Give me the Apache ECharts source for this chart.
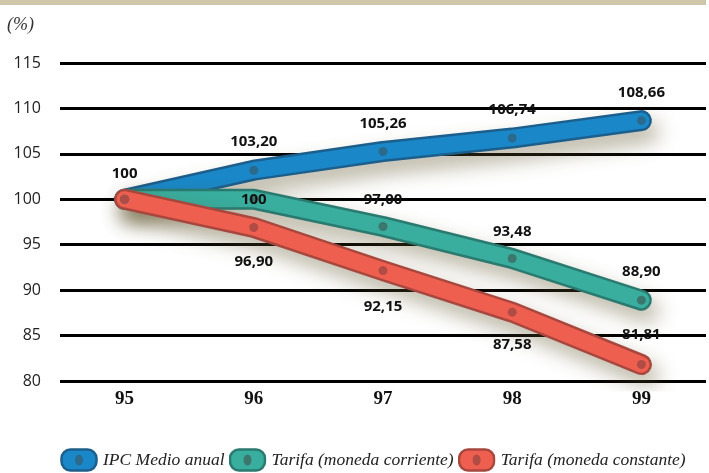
<!DOCTYPE html>
<html>
<head>
<meta charset="utf-8">
<script src="https://cdn.jsdelivr.net/npm/echarts@6/dist/echarts.min.js"></script>
<style>
html, body { margin: 0; padding: 0; background: #fff; }
#chart { width: 709px; height: 473px; }
</style>
</head>
<body>
<div id="chart"></div>
<script>
var years = ["95", "96", "97", "98", "99"];
var ipc = [100, 103.20, 105.26, 106.74, 108.66];
var tarifaCorriente = [100, 100, 97.00, 93.48, 88.90];
var tarifaConstante = [100, 96.90, 92.15, 87.58, 81.81];
var names = ["IPC Medio anual", "Tarifa (moneda corriente)", "Tarifa (moneda constante)"];

// colores: relleno, borde, punto
var colors = [
    ["#1a88c8", "#1c5f8c", "#2b6a8c"],
    ["#39ad9e", "#2a7a70", "#3c776e"],
    ["#ef5f50", "#a8473e", "#b04c44"]
];

// posicion de etiqueta por punto (null = sin etiqueta)
var labelPos = [
    [["top", 14], ["top", 16], ["top", 16], ["top", 16], ["top", 16]],
    [null, ["inside", 0], ["top", 15], ["top", 15], ["top", 16]],
    [null, ["bottom", 22], ["bottom", 24], ["bottom", 21], ["top", 18]]
];

function fmt(v) {
    return v === 100 ? "100" : v.toFixed(2).replace(".", ",");
}

function icon(c) {
    var svg = '<svg xmlns="http://www.w3.org/2000/svg" width="38" height="24" viewBox="0 0 38 24">' +
        '<rect x="1.5" y="1.5" width="35" height="21" rx="9" ry="9" fill="' + c[0] + '" stroke="' + c[1] + '" stroke-width="2.5"/>' +
        '<ellipse cx="19" cy="12" rx="4" ry="5.5" fill="' + c[2] + '"/></svg>';
    return "image://data:image/svg+xml;charset=utf-8," + encodeURIComponent(svg);
}

var values = [ipc, tarifaCorriente, tarifaConstante];
var series = [];
values.forEach(function(vals, i) {
    var c = colors[i];
    series.push({
        name: names[i] + "_borde",
        type: "line",
        data: vals,
        silent: true,
        symbol: "none",
        animation: false,
        lineStyle: {
            color: c[1],
            width: 21,
            cap: "round",
            join: "round",
            shadowBlur: 20,
            shadowColor: "rgba(95,85,45,0.45)",
            shadowOffsetX: 7,
            shadowOffsetY: 11
        }
    });
    series.push({
        name: names[i],
        type: "line",
        data: vals.map(function(v, k) {
            var p = labelPos[i][k];
            return {
                value: v,
                label: p ? { show: true, position: p[0], distance: p[1] } : { show: false }
            };
        }),
        symbol: "circle",
        symbolSize: 9,
        showAllSymbol: true,
        animation: false,
        itemStyle: { color: c[2], borderWidth: 0 },
        lineStyle: { color: c[0], width: 16, cap: "round", join: "round" },
        label: {
            formatter: function(p) { return fmt(p.value); },
            fontFamily: "Open Sans",
            fontWeight: "bold",
            fontSize: 15,
            color: "#111"
        },
        emphasis: { disabled: true }
    });
});

var chart = echarts.init(document.getElementById("chart"));
chart.setOption({
    backgroundColor: "#fff",
    animation: false,
    graphic: [
        { type: "rect", left: 0, top: 0, shape: { width: 706, height: 5 }, style: { fill: "#cfc7a9" } },
        { type: "text", left: 7, top: 16, style: { text: "(%)", font: "italic 18px 'Liberation Serif'", fill: "#333" } }
    ],
    grid: { left: 60, right: 3, top: 63, bottom: 92 },
    legend: {
        left: 60,
        top: 448,
        width: 649,
        padding: 0,
        itemGap: 4,
        itemWidth: 38,
        itemHeight: 24,
        data: names.map(function(n, i) { return { name: n, icon: icon(colors[i]) }; }),
        textStyle: { fontFamily: "Liberation Serif", fontStyle: "italic", fontSize: 17.5, color: "#222" },
        selectedMode: false
    },
    xAxis: {
        type: "category",
        data: years,
        axisLine: { show: false },
        axisTick: { show: false },
        axisLabel: { margin: 9, fontFamily: "Liberation Serif", fontWeight: "bold", fontSize: 19, color: "#111" }
    },
    yAxis: {
        type: "value",
        min: 80,
        max: 115,
        interval: 5,
        axisLine: { show: false },
        axisTick: { show: false },
        axisLabel: { margin: 19, fontFamily: "Open Sans", fontSize: 16, color: "#222" },
        splitLine: { lineStyle: { color: "#000", width: 3 } }
    },
    series: series
});
</script>
</body>
</html>
